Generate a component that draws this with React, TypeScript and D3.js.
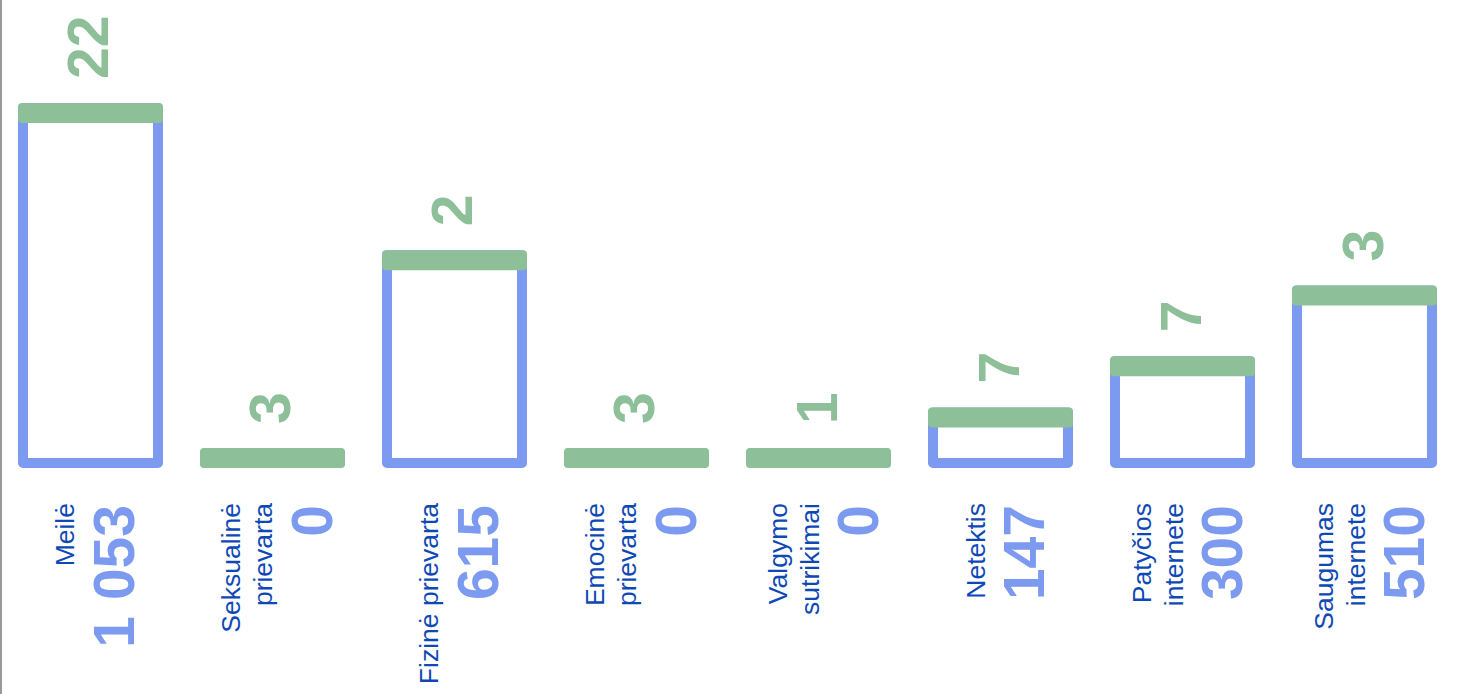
import React from "react";
import * as d3 from "d3";

const categories: string[] = [
  "Meilė",
  "Seksualinė\nprievarta",
  "Fizinė prievarta",
  "Emocinė\nprievarta",
  "Valgymo\nsutrikimai",
  "Netektis",
  "Patyčios\ninternete",
  "Saugumas\ninternete",
];
const blueValues: number[] = [1053, 0, 615, 0, 0, 147, 300, 510];
const greenValues: number[] = [22, 3, 2, 3, 1, 7, 7, 3];

const W = 1458;
const H = 694;
const BASE = 468;
const CAP = 20;
const STROKE = 10;
const BLUE = "#7B9AF0";
const GREEN = "#8DC099";
const DARK = "#0E48B6";
const FONT = "'Liberation Sans', Arial, Helvetica, sans-serif";

const fmt = d3.formatLocale({ decimal: ",", thousands: "\u00a0", grouping: [3], currency: ["", ""] }).format(",d");

export default function App() {
  const x = d3.scaleBand<string>().domain(categories).range([18, 1437]).paddingInner(0.2033).paddingOuter(0);
  const y = d3.scaleLinear().domain([0, 1053]).range([457, 103]);
  const bw = x.bandwidth();

  return (
    <svg width={W} height={H} style={{ position: "absolute", left: 0, top: 0, background: "#fff" }}>
      <line x1={1} x2={1} y1={0} y2={H} stroke="#777" strokeWidth={1.5} />
      {categories.map((cat, i) => {
        const x0 = x(cat) as number;
        const c = x0 + bw / 2;
        const top = Math.min(y(blueValues[i]), BASE - CAP);
        const lines = cat.split("\n");
        const n = lines.length;
        const shift = -16 * n;
        const valueBaseline = c + shift + 32 * (n - 1) + 59.5;
        return (
          <g key={cat}>
            <rect
              x={x0 + STROKE / 2}
              y={top + STROKE / 2}
              width={bw - STROKE}
              height={Math.max(0, BASE - top - STROKE)}
              fill="none"
              stroke={BLUE}
              strokeWidth={STROKE}
              strokeLinejoin="round"
            />
            <rect x={x0} y={top} width={bw} height={CAP} rx={4} ry={4} fill={GREEN} />
            <text
              transform={`translate(${c + 18},${top - 24}) rotate(-90)`}
              textAnchor="start"
              fontFamily={FONT}
              fontWeight="bold"
              fontSize={57}
              fill={GREEN}
            >
              {greenValues[i]}
            </text>
            {lines.map((ln, j) => (
              <text
                key={j}
                transform={`translate(${c + shift + 32 * j},503) rotate(-90)`}
                textAnchor="end"
                fontFamily={FONT}
                fontSize={26.5}
                fill={DARK}
              >
                {ln}
              </text>
            ))}
            <text
              transform={`translate(${valueBaseline},505) rotate(-90)`}
              textAnchor="end"
              fontFamily={FONT}
              fontWeight="bold"
              fontSize={57}
              fill={BLUE}
            >
              {fmt(blueValues[i])}
            </text>
          </g>
        );
      })}
    </svg>
  );
}
